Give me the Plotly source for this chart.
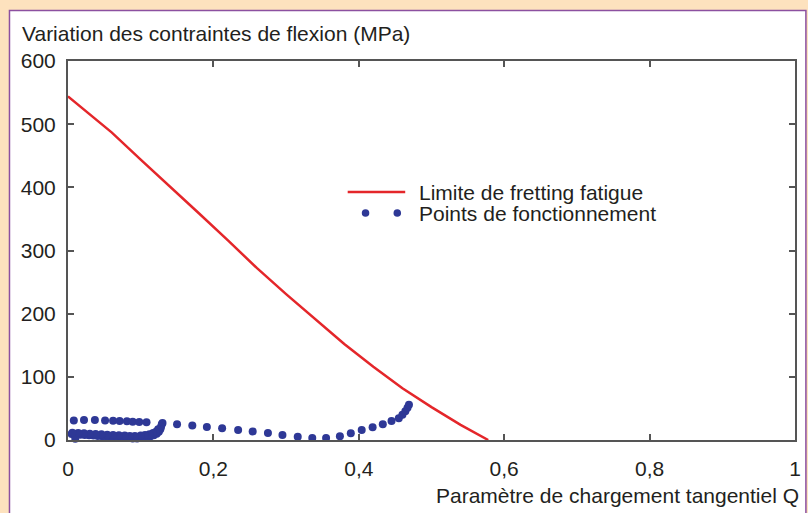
import plotly.graph_objects as go

# ---- data ----
limite_q = [0.0, 0.06, 0.10, 0.14, 0.18, 0.22, 0.26, 0.30, 0.34, 0.38, 0.42, 0.46, 0.50, 0.54, 0.578]
limite_v = [544, 487, 444, 402, 359, 316, 272, 231, 191, 152, 116, 82, 52, 24, 0]

# operating points: upper branch (from left to right end)
pts_upper_q = [0.008, 0.022, 0.037, 0.051, 0.062, 0.071, 0.081, 0.089, 0.098, 0.108,
               0.130, 0.150, 0.171, 0.191, 0.212, 0.234, 0.254, 0.275, 0.295, 0.316,
               0.336, 0.355, 0.374, 0.389, 0.404, 0.419, 0.433, 0.445, 0.455, 0.460,
               0.464, 0.467, 0.469]
pts_upper_v = [31, 31.5, 31.5, 31, 30.5, 30, 29.5, 29, 28.5, 28,
               27, 25, 23, 20.5, 18.5, 16, 13.5, 11, 8, 5,
               3, 3, 6, 10.5, 16, 20, 25, 30, 34.5, 40,
               45.5, 51, 56]
# operating points: lower loop (outer row)
pts_lower_q = [0.129, 0.128, 0.127, 0.125, 0.122, 0.118, 0.113, 0.107, 0.101, 0.095,
               0.089, 0.083, 0.077, 0.071, 0.065, 0.059, 0.053, 0.047, 0.041, 0.035,
               0.029, 0.023, 0.017, 0.011, 0.005, 0.010]
pts_lower_v = [25, 21, 17, 13, 10, 7.5, 5.5, 4, 3, 2.5,
               2.5, 3, 3.5, 4, 4.5, 5, 5.5, 6, 6.5, 7,
               7.5, 8, 8.5, 9, 9.5, 2]
# operating points: lower loop (inner row)
pts_inner_q = [0.124, 0.121, 0.117, 0.112, 0.106, 0.100, 0.092, 0.085, 0.078, 0.070,
               0.062, 0.054, 0.046, 0.038, 0.030, 0.022, 0.014, 0.006]
pts_inner_v = [17, 13, 11, 9, 8, 7, 6.5, 6.5, 7, 7.5,
               8, 8.5, 9, 9.5, 10, 10.5, 11, 11.5]

x_ticks = [0, 0.2, 0.4, 0.6, 0.8, 1]
y_ticks = [0, 100, 200, 300, 400, 500, 600]

RED = "rgb(228,38,42)"
BLUE = "rgb(46,56,150)"
FONT = "Liberation Sans, Arial, Helvetica, sans-serif"
TXT = "rgb(35,31,32)"
AX = "rgb(85,85,85)"
FS = 21

W, H = 808, 513
ML, MR, MT, MB = 68, 7, 61, 73
PW, PH = W - ML - MR, H - MT - MB


def px(x):
    return (x - ML) / PW


def py(y):
    return (H - MB - y) / PH


fig = go.Figure()
fig.add_trace(go.Scatter(x=limite_q, y=limite_v, mode="lines",
                         line=dict(color=RED, width=2.5), showlegend=False,
                         cliponaxis=False))
fig.add_trace(go.Scatter(x=pts_upper_q + pts_lower_q + pts_inner_q,
                         y=pts_upper_v + pts_lower_v + pts_inner_v,
                         mode="markers", marker=dict(color=BLUE, size=8),
                         showlegend=False, cliponaxis=False))

shapes = [
    # white panel with purple border
    dict(type="rect", xref="paper", yref="paper", x0=px(9), x1=px(812), y0=py(518), y1=py(10.5),
         fillcolor="white", line=dict(color="rgb(140,80,160)", width=1.5), layer="below"),
    # legend: red line
    dict(type="line", xref="paper", yref="paper", x0=px(350), x1=px(408), y0=py(192), y1=py(192),
         line=dict(color=RED, width=2.5)),
]
# legend: two dots
for cx in (368, 400):
    shapes.append(dict(type="circle", xref="paper", yref="paper",
                       x0=px(cx - 3.8), x1=px(cx + 3.8), y0=py(213 + 3.8), y1=py(213 - 3.8),
                       fillcolor=BLUE, line=dict(width=0)))

annotations = [
    dict(text="Variation des contraintes de flexion (MPa)", xref="paper", yref="paper",
         x=px(20), y=py(33), xanchor="left", yanchor="middle", showarrow=False,
         font=dict(size=FS, color=TXT, family=FONT)),
    dict(text="Paramètre de chargement tangentiel Q", xref="paper", yref="paper",
         x=px(807), y=py(495), xanchor="right", yanchor="middle", showarrow=False,
         font=dict(size=FS, color=TXT, family=FONT)),
    dict(text="Limite de fretting fatigue", xref="paper", yref="paper",
         x=px(420), y=py(192), xanchor="left", yanchor="middle", showarrow=False,
         font=dict(size=FS, color=TXT, family=FONT)),
    dict(text="Points de fonctionnement", xref="paper", yref="paper",
         x=px(420), y=py(213), xanchor="left", yanchor="middle", showarrow=False,
         font=dict(size=FS, color=TXT, family=FONT)),
]

fig.update_layout(
    width=W, height=H,
    margin=dict(l=ML, r=MR, t=MT, b=MB),
    paper_bgcolor="rgb(253,226,190)",
    plot_bgcolor="white",
    separators=", ",
    font=dict(family=FONT, size=FS, color=TXT),
    shapes=shapes,
    annotations=annotations,
    showlegend=False,
)
fig.update_xaxes(range=[0, 1], tickvals=x_ticks, tickformat="~g", ticks="inside", ticklen=6,
                 tickcolor=AX, tickwidth=1.5, showline=True, linecolor=AX, linewidth=2,
                 mirror="ticks", showgrid=False, zeroline=False, ticklabelstandoff=9,
                 tickfont=dict(size=FS, color=TXT))
fig.update_yaxes(range=[0, 600], tickvals=y_ticks, ticks="inside", ticklen=6,
                 tickcolor=AX, tickwidth=1.5, showline=True, linecolor=AX, linewidth=2,
                 mirror="ticks", showgrid=False, zeroline=False, ticklabelstandoff=6,
                 tickfont=dict(size=FS, color=TXT))

fig.write_html("out.html")
